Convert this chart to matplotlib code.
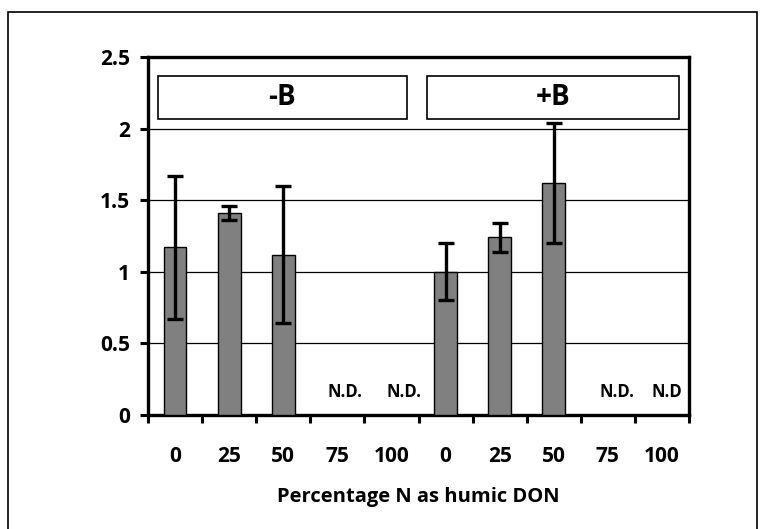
import numpy as np
import matplotlib
matplotlib.use("Agg")
import matplotlib.pyplot as plt
from matplotlib.patches import Rectangle

# Percentage of N supplied as humic DON, for each boron treatment
categories = ["0", "25", "50", "75", "100", "0", "25", "50", "75", "100"]
minus_b_values = [1.17, 1.41, 1.12]
minus_b_errors = [0.50, 0.05, 0.48]
plus_b_values = [1.00, 1.24, 1.62]
plus_b_errors = [0.20, 0.10, 0.42]
group_labels = ["-B", "+B"]
nd_labels = ["N.D.", "N.D.", "N.D.", "N.D"]

plt.rcParams["font.family"] = ["Open Sans", "DejaVu Sans"]
plt.rcParams["font.weight"] = "bold"

fig = plt.figure(figsize=(7.67, 5.29), dpi=100)
ax = fig.add_axes([148 / 767, 1 - 415 / 529, (689 - 148) / 767, (415 - 57) / 529])

# outer frame around the chart area
fig.patches.append(Rectangle((8 / 767, -0.05), (757 - 8) / 767, 1.05 - 12 / 529,
                             transform=fig.transFigure, fill=False,
                             edgecolor="black", linewidth=1.2, zorder=0))

values = minus_b_values + [np.nan, np.nan] + plus_b_values + [np.nan, np.nan]
errors = minus_b_errors + [np.nan, np.nan] + plus_b_errors + [np.nan, np.nan]
x = np.arange(len(categories))

ax.bar(x, np.nan_to_num(values), width=0.42, color="#808080",
       edgecolor="black", linewidth=1.0, zorder=3)
ax.errorbar(x, values, yerr=errors, fmt="none", ecolor="black",
            elinewidth=2.4, capsize=6, capthick=2.4, zorder=4)

ax.set_xlim(-0.5, 9.5)
ax.set_ylim(0, 2.5)
ax.set_yticks([0, 0.5, 1, 1.5, 2, 2.5])
ax.set_yticklabels(["0", "0.5", "1", "1.5", "2", "2.5"])
ax.yaxis.grid(True, color="black", linewidth=0.9, zorder=0)
ax.set_axisbelow(True)

ax.set_xticks(x)
ax.set_xticklabels(categories)
ax.set_xticks(np.arange(-0.5, 10, 1), minor=True)
ax.tick_params(axis="x", which="major", length=0, pad=22, labelsize=15)
ax.tick_params(axis="x", which="minor", length=6, width=2.2, direction="out")
ax.tick_params(axis="y", length=6, width=2.2, direction="out", pad=7, labelsize=15)

for side in ["left", "bottom", "top", "right"]:
    ax.spines[side].set_linewidth(2.4)

# treatment boxes
for (x0, x1), label in zip([(-0.32, 4.29), (4.66, 9.32)], group_labels):
    ax.add_patch(Rectangle((x0, 2.07), x1 - x0, 0.30, fill=True, facecolor="white",
                           edgecolor="black", linewidth=1.2, zorder=5))
    ax.text((x0 + x1) / 2, 2.22, label, ha="center", va="center",
            fontsize=20, fontweight="bold", zorder=6)

# not-determined markers
for xpos, label in zip([2.82, 3.91, 7.84, 8.81], nd_labels):
    ax.text(xpos, 0.128, label, ha="left", va="baseline", fontsize=12,
            fontweight="bold", clip_on=True, zorder=6)

fig.text(418 / 767, 1 - 497 / 529, "Percentage N as humic DON", ha="center",
         va="center", fontsize=14.5, fontweight="bold")

fig.savefig("out.png", dpi=100)
